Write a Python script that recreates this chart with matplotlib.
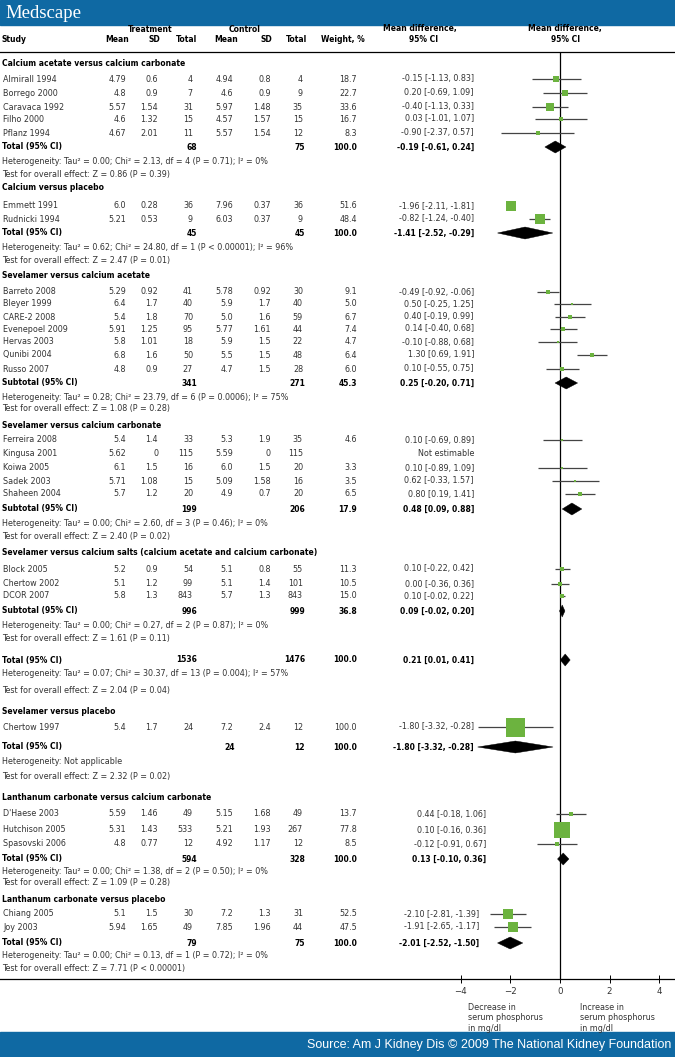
import matplotlib
matplotlib.use("Agg")
import matplotlib.pyplot as plt
from matplotlib.patches import Polygon, Rectangle

# ---- data ----
group_titles = [
    "Calcium acetate versus calcium carbonate",
    "Calcium versus placebo",
    "Sevelamer versus calcium acetate",
    "Sevelamer versus calcium carbonate",
    "Sevelamer versus calcium salts (calcium acetate and calcium carbonate)",
    "Sevelamer versus placebo",
    "Lanthanum carbonate versus calcium carbonate",
    "Lanthanum carbonate versus placebo",
]

study_group = [0, 0, 0, 0, 0, 1, 1, 2, 2, 2, 2, 2, 2, 2, 3, 3, 3, 3, 3,
               4, 4, 4, 5, 6, 6, 6, 7, 7]
study_names = ["Almirall 1994", "Borrego 2000", "Caravaca 1992", "Filho 2000", "Pflanz 1994",
               "Emmett 1991", "Rudnicki 1994",
               "Barreto 2008", "Bleyer 1999", "CARE-2 2008", "Evenepoel 2009", "Hervas 2003",
               "Qunibi 2004", "Russo 2007",
               "Ferreira 2008", "Kingusa 2001", "Koiwa 2005", "Sadek 2003", "Shaheen 2004",
               "Block 2005", "Chertow 2002", "DCOR 2007",
               "Chertow 1997",
               "D'Haese 2003", "Hutchison 2005", "Spasovski 2006",
               "Chiang 2005", "Joy 2003"]
treat_mean = ["4.79", "4.8", "5.57", "4.6", "4.67", "6.0", "5.21",
              "5.29", "6.4", "5.4", "5.91", "5.8", "6.8", "4.8",
              "5.4", "5.62", "6.1", "5.71", "5.7", "5.2", "5.1", "5.8",
              "5.4", "5.59", "5.31", "4.8", "5.1", "5.94"]
treat_sd = ["0.6", "0.9", "1.54", "1.32", "2.01", "0.28", "0.53",
            "0.92", "1.7", "1.8", "1.25", "1.01", "1.6", "0.9",
            "1.4", "0", "1.5", "1.08", "1.2", "0.9", "1.2", "1.3",
            "1.7", "1.46", "1.43", "0.77", "1.5", "1.65"]
treat_n = [4, 7, 31, 15, 11, 36, 9, 41, 40, 70, 95, 18, 50, 27,
           33, 115, 16, 15, 20, 54, 99, 843, 24, 49, 533, 12, 30, 49]
ctrl_mean = ["4.94", "4.6", "5.97", "4.57", "5.57", "7.96", "6.03",
             "5.78", "5.9", "5.0", "5.77", "5.9", "5.5", "4.7",
             "5.3", "5.59", "6.0", "5.09", "4.9", "5.1", "5.1", "5.7",
             "7.2", "5.15", "5.21", "4.92", "7.2", "7.85"]
ctrl_sd = ["0.8", "0.9", "1.48", "1.57", "1.54", "0.37", "0.37",
           "0.92", "1.7", "1.6", "1.61", "1.5", "1.5", "1.5",
           "1.9", "0", "1.5", "1.58", "0.7", "0.8", "1.4", "1.3",
           "2.4", "1.68", "1.93", "1.17", "1.3", "1.96"]
ctrl_n = [4, 9, 35, 15, 12, 36, 9, 30, 40, 59, 44, 22, 48, 28,
          35, 115, 20, 16, 20, 55, 101, 843, 12, 49, 267, 12, 31, 44]
weight = [18.7, 22.7, 33.6, 16.7, 8.3, 51.6, 48.4,
          9.1, 5.0, 6.7, 7.4, 4.7, 6.4, 6.0,
          4.6, None, 3.3, 3.5, 6.5, 11.3, 10.5, 15.0,
          100.0, 13.7, 77.8, 8.5, 52.5, 47.5]
md = [-0.15, 0.20, -0.40, 0.03, -0.90, -1.96, -0.82,
      -0.49, 0.50, 0.40, 0.14, -0.10, 1.30, 0.10,
      0.10, None, 0.10, 0.62, 0.80, 0.10, 0.00, 0.10,
      -1.80, 0.44, 0.10, -0.12, -2.10, -1.91]
ci_lo = [-1.13, -0.69, -1.13, -1.01, -2.37, -2.11, -1.24,
         -0.92, -0.25, -0.19, -0.40, -0.88, 0.69, -0.55,
         -0.69, None, -0.89, -0.33, 0.19, -0.22, -0.36, -0.02,
         -3.32, -0.18, -0.16, -0.91, -2.81, -2.65]
ci_hi = [0.83, 1.09, 0.33, 1.07, 0.57, -1.81, -0.40,
         -0.06, 1.25, 0.99, 0.68, 0.68, 1.91, 0.75,
         0.89, None, 1.09, 1.57, 1.41, 0.42, 0.36, 0.22,
         -0.28, 1.06, 0.36, 0.67, -1.39, -1.17]

total_label = ["Total", "Total", "Subtotal", "Subtotal", "Subtotal", "Total", "Total", "Total"]
total_tn = [68, 45, 341, 199, 996, 24, 594, 79]
total_cn = [75, 45, 271, 206, 999, 12, 328, 75]
total_w = [100.0, 100.0, 45.3, 17.9, 36.8, 100.0, 100.0, 100.0]
total_md = [-0.19, -1.41, 0.25, 0.48, 0.09, -1.80, 0.13, -2.01]
total_lo = [-0.61, -2.52, -0.20, 0.09, -0.02, -3.32, -0.10, -2.52]
total_hi = [0.24, -0.29, 0.71, 0.88, 0.20, -0.28, 0.36, -1.50]
het_text = [
    "Heterogeneity: Tau\u00b2 = 0.00; Chi\u00b2 = 2.13, df = 4 (P = 0.71); I\u00b2 = 0%",
    "Heterogeneity: Tau\u00b2 = 0.62; Chi\u00b2 = 24.80, df = 1 (P < 0.00001); I\u00b2 = 96%",
    "Heterogeneity: Tau\u00b2 = 0.28; Chi\u00b2 = 23.79, df = 6 (P = 0.0006); I\u00b2 = 75%",
    "Heterogeneity: Tau\u00b2 = 0.00; Chi\u00b2 = 2.60, df = 3 (P = 0.46); I\u00b2 = 0%",
    "Heterogeneity: Tau\u00b2 = 0.00; Chi\u00b2 = 0.27, df = 2 (P = 0.87); I\u00b2 = 0%",
    "Heterogeneity: Not applicable",
    "Heterogeneity: Tau\u00b2 = 0.00; Chi\u00b2 = 1.38, df = 2 (P = 0.50); I\u00b2 = 0%",
    "Heterogeneity: Tau\u00b2 = 0.00; Chi\u00b2 = 0.13, df = 1 (P = 0.72); I\u00b2 = 0%",
]
test_text = [
    "Test for overall effect: Z = 0.86 (P = 0.39)",
    "Test for overall effect: Z = 2.47 (P = 0.01)",
    "Test for overall effect: Z = 1.08 (P = 0.28)",
    "Test for overall effect: Z = 2.40 (P = 0.02)",
    "Test for overall effect: Z = 1.61 (P = 0.11)",
    "Test for overall effect: Z = 2.32 (P = 0.02)",
    "Test for overall effect: Z = 1.09 (P = 0.28)",
    "Test for overall effect: Z = 7.71 (P < 0.00001)",
]

# pooled sevelamer vs calcium total, printed after group 4
overall_after = 4
overall_tn, overall_cn, overall_w = 1536, 1476, 100.0
overall_md, overall_lo, overall_hi = 0.21, 0.01, 0.41
overall_het = "Heterogeneity: Tau\u00b2 = 0.07; Chi\u00b2 = 30.37, df = 13 (P = 0.004); I\u00b2 = 57%"
overall_test = "Test for overall effect: Z = 2.04 (P = 0.04)"

xticks = [-4, -2, 0, 2, 4]

# ---- layout (pixels) ----
W, H = 675, 1057
row_y = [63, 79, 93, 107, 119, 133, 147, 161, 174,
         188, 206, 219, 233, 247, 261,
         276, 292, 304, 317, 329, 342, 355, 369, 383, 397, 409,
         425, 440, 454, 468, 481, 494, 509, 523, 536,
         552, 569, 584, 596, 611, 625, 638,
         660, 673, 691,
         711, 727, 747, 762, 776,
         797, 814, 830, 844, 859, 871, 882,
         899, 914, 927, 943, 956, 968]
X_TM, X_TSD, X_TN, X_CM, X_CSD, X_CN, X_W = 126, 158, 193, 233, 271, 303, 357
X_TOT_TN, X_TOT_CN = 197, 305
tot_tn_x = {5: 235}
ci_x = {6: 486, 7: 479}
X_CI = 474
ZERO_PX, UNIT_PX = 560, 24.8
AX_TOP, AX_BOT = 52, 979

BLUE = "#0f69a3"
GREEN = "#6cb33f"
TXT = "#333333"
FS = 5.8
FSB = 5.5

fig = plt.figure(figsize=(W / 100, H / 100), dpi=100)
tab = fig.add_axes([0, 0, 1, 1])
tab.set_xlim(0, W)
tab.set_ylim(H, 0)
tab.axis("off")

fp_left = 430
fp = fig.add_axes([fp_left / W, (H - AX_BOT) / H, (W - fp_left) / W, (AX_BOT - AX_TOP) / H])
fp.set_xlim((fp_left - ZERO_PX) / UNIT_PX, (W - ZERO_PX) / UNIT_PX)
fp.set_ylim(AX_BOT, AX_TOP)
fp.patch.set_visible(False)
for sp in fp.spines.values():
    sp.set_visible(False)
fp.set_yticks([])
fp.set_xticks(xticks)
fp.set_xticklabels([str(t).replace("-", "\u2212") for t in xticks])
fp.tick_params(axis="x", direction="inout", length=6, width=0.7, labelsize=6.2,
               pad=3, labelcolor=TXT)
fp.axvline(0, color="black", lw=0.9)


def cell(x, y, s, ha="right", bold=False):
    tab.text(x, y, s, ha=ha, va="center", fontsize=FSB if bold else FS,
             fontweight="bold" if bold else "normal",
             color="black" if bold else TXT)


def diamond(y, m, lo, hi):
    fp.add_patch(Polygon([[lo, y], [m, y - 6], [hi, y], [m, y + 6]],
                         closed=True, facecolor="black", edgecolor="black", lw=0.3))


def ci_str(m, lo, hi):
    return f"{m:.2f} [{lo:.2f}, {hi:.2f}]"


# banners
tab.add_patch(Rectangle((0, 0), W, 25, color=BLUE))
tab.add_patch(Rectangle((0, 1032), W, 25, color=BLUE))
tab.text(5, 13, "Medscape", ha="left", va="center", color="white", fontsize=13.5,
         family="Liberation Serif")
tab.text(671, 1045, "Source: Am J Kidney Dis \u00a9 2009 The National Kidney Foundation",
         ha="right", va="center", color="white", fontsize=9.0, family="Liberation Sans")

# column headers
for s, x in [("Treatment", 150), ("Control", 245), ("Mean difference,", 420),
             ("Mean difference,", 565)]:
    cell(x, 29, s, ha="center", bold=True)
cell(2, 40, "Study", ha="left", bold=True)
for s, x in [("Mean", 117), ("SD", 154), ("Total", 187), ("Mean", 226), ("SD", 266),
             ("Total", 296), ("Weight, %", 343), ("95% CI", 424), ("95% CI", 566)]:
    cell(x, 40, s, ha="center", bold=True)

tab.axhline(AX_TOP, color="black", lw=0.9)
tab.axhline(AX_BOT, color="black", lw=0.9)

# rows
rows = iter(row_y)
for g, title in enumerate(group_titles):
    cx = ci_x.get(g, X_CI)
    cell(2, next(rows), title, ha="left", bold=True)
    for i, sg in enumerate(study_group):
        if sg != g:
            continue
        y = next(rows)
        cell(3, y, study_names[i], ha="left")
        cell(X_TM, y, treat_mean[i])
        cell(X_TSD, y, treat_sd[i])
        cell(X_TN, y, str(treat_n[i]))
        cell(X_CM, y, ctrl_mean[i])
        cell(X_CSD, y, ctrl_sd[i])
        cell(X_CN, y, str(ctrl_n[i]))
        if md[i] is None:
            cell(cx, y, "Not estimable")
            continue
        cell(X_W, y, f"{weight[i]:.1f}")
        cell(cx, y, ci_str(md[i], ci_lo[i], ci_hi[i]))
        fp.hlines(y, ci_lo[i], ci_hi[i], color="#444444", lw=0.9)
        side = (2 + 0.17 * weight[i]) * 0.72
        fp.plot(md[i], y, "s", ms=side, color=GREEN, mew=0)
    y = next(rows)
    cell(2, y, f"{total_label[g]} (95% CI)", ha="left", bold=True)
    cell(tot_tn_x.get(g, X_TOT_TN), y, str(total_tn[g]), bold=True)
    cell(X_TOT_CN, y, str(total_cn[g]), bold=True)
    cell(X_W, y, f"{total_w[g]:.1f}", bold=True)
    cell(cx, y, ci_str(total_md[g], total_lo[g], total_hi[g]), bold=True)
    diamond(y, total_md[g], total_lo[g], total_hi[g])
    cell(2, next(rows), het_text[g], ha="left")
    cell(2, next(rows), test_text[g], ha="left")
    if g == overall_after:
        y = next(rows)
        cell(2, y, "Total (95% CI)", ha="left", bold=True)
        cell(X_TOT_TN, y, str(overall_tn), bold=True)
        cell(X_TOT_CN, y, str(overall_cn), bold=True)
        cell(X_W, y, f"{overall_w:.1f}", bold=True)
        cell(X_CI, y, ci_str(overall_md, overall_lo, overall_hi), bold=True)
        diamond(y, overall_md, overall_lo, overall_hi)
        cell(2, next(rows), overall_het, ha="left")
        cell(2, next(rows), overall_test, ha="left")

# axis captions
for s, x in [("Decrease in\nserum phosphorus\nin mg/dl", 468),
             ("Increase in\nserum phosphorus\nin mg/dl", 580)]:
    tab.text(x, 1003, s, ha="left", va="top", fontsize=FS, color=TXT, linespacing=1.2)

fig.savefig("out.png", dpi=100)
